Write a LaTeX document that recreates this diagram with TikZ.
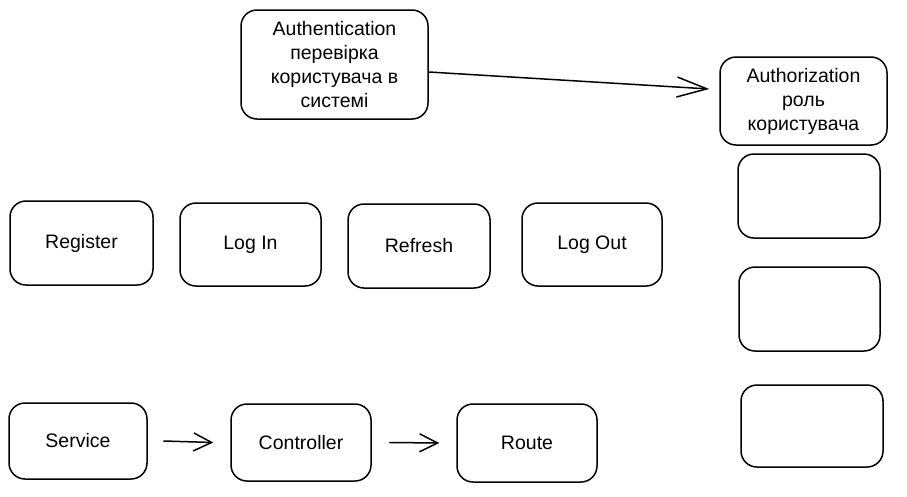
\documentclass[tikz,border=0pt]{standalone}
\usepackage{fontspec}
\setmainfont{Liberation Sans}
\usetikzlibrary{arrows.meta,positioning}

\tikzset{
  box/.style={draw, line width=1.5pt, rounded corners=16pt, align=center,
    font=\fontsize{19.5}{24}\selectfont, inner sep=4pt},
  flow/.style={line width=1.5pt, line cap=round,
    -{Straight Barb[length=18pt,width=18pt,line width=1.5pt]}},
  bigflow/.style={line width=1.5pt, line cap=round,
    -{Straight Barb[length=30pt,width=20pt,line width=1.5pt]}}
}

\begin{document}
\begin{tikzpicture}[x=1pt, y=-1pt]
    \useasboundingbox (0,0) rectangle (907,496);

    % Authentication and authorization
    \node[box, minimum width=187pt, minimum height=109pt] (authn) at (334.5,64.5)
        {Authentication\\перевірка\\користувача в\\системі};
    \node[box, minimum width=167pt, minimum height=88pt] (authz) at (803.5,101)
        {Authorization\\роль\\користувача};
    \draw[bigflow] ([yshift=-7.5pt]authn.east) -- ([xshift=-10pt,yshift=12pt]authz.west);

    % Empty boxes on the right
    \node[box, minimum width=142pt, minimum height=84pt] (slota) at (809,196) {};
    \node[box, minimum width=141pt, minimum height=84pt] (slotb) at (809.5,309) {};
    \node[box, minimum width=142pt, minimum height=82pt] (slotc) at (812,426) {};

    % Endpoints
    \node[box, minimum width=143pt, minimum height=84pt] (register) at (81.5,243) {Register};
    \node[box, minimum width=141pt, minimum height=83pt] (login) at (250.5,244.5) {Log In};
    \node[box, minimum width=142pt, minimum height=84pt] (refresh) at (419,246) {Refresh};
    \node[box, minimum width=140pt, minimum height=83pt] (logout) at (592,244.5) {Log Out};

    % Layers
    \node[box, minimum width=138pt, minimum height=76pt] (service) at (78,441) {Service};
    \node[box, minimum width=140pt, minimum height=77pt] (controller) at (301,442.5) {Controller};
    \node[box, minimum width=140pt, minimum height=78pt] (route) at (527,443) {Route};

    \draw[flow] ([xshift=16pt]service.east) -- ([xshift=-17pt]controller.west);
    \draw[flow] ([xshift=18pt]controller.east) -- ([xshift=-17pt]route.west);
\end{tikzpicture}
\end{document}
